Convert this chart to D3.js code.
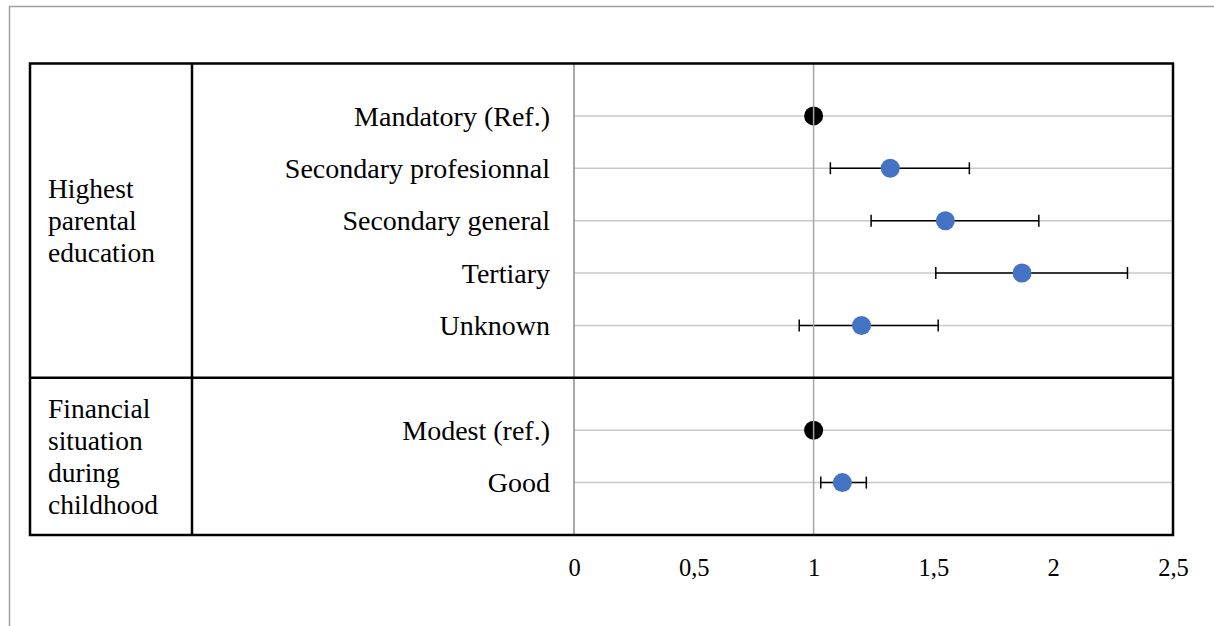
<!DOCTYPE html>
<html>
<head>
<meta charset="utf-8">
<script src="https://cdn.jsdelivr.net/npm/d3@7"></script>
<style>
  body { margin: 0; background: #fff; }
  svg { display: block; }
  text { font-family: "Liberation Serif", "Times New Roman", serif; fill: #000; }
</style>
</head>
<body>
<div id="chart"></div>
<script>
// data
var rowLabels = ["Mandatory (Ref.)", "Secondary profesionnal", "Secondary general", "Tertiary", "Unknown", "Modest (ref.)", "Good"];
var rowGroup = [0, 0, 0, 0, 0, 1, 1];
var isRef = [true, false, false, false, false, true, false];
var estimate = [1, 1.32, 1.55, 1.87, 1.20, 1, 1.12];
var lowerCI = [null, 1.07, 1.24, 1.51, 0.94, null, 1.03];
var upperCI = [null, 1.65, 1.94, 2.31, 1.52, null, 1.22];
var groupLabels = [["Highest", "parental", "education"], ["Financial", "situation", "during", "childhood"]];
var xTicks = [0, 0.5, 1, 1.5, 2, 2.5];

var width = 1214, height = 626;
var tableLeft = 30, colDivider = 192;

var rows = rowLabels.map(function(d, i) {
  return {label: d, group: rowGroup[i], ref: isRef[i], est: estimate[i], lo: lowerCI[i], hi: upperCI[i],
          slot: i + 1 + rowGroup[i]};   // one empty slot between the two groups
});

// scales
var xScale = d3.scaleLinear().domain([0, 2.5]).range([574, 1173]);
var yScale = d3.scaleLinear().domain([0, 9]).range([63.5, 535]);

var svg = d3.select("#chart").append("svg")
  .attr("width", width)
  .attr("height", height);

// outer grey frame
svg.append("rect")
  .attr("x", 9.5).attr("y", 6.5)
  .attr("width", width + 20).attr("height", height + 20)
  .attr("fill", "none").attr("stroke", "#a0a0a0").attr("stroke-width", 1.5);

// horizontal gridlines
svg.append("g").selectAll("line").data(rows).join("line")
  .attr("x1", xScale(0)).attr("x2", xScale(2.5))
  .attr("y1", function(d) { return yScale(d.slot); })
  .attr("y2", function(d) { return yScale(d.slot); })
  .attr("stroke", "#c8c8c8").attr("stroke-width", 1.5);

// y axis line at 0
svg.append("line")
  .attr("x1", xScale(0)).attr("x2", xScale(0))
  .attr("y1", yScale(0)).attr("y2", yScale(9))
  .attr("stroke", "#8c8c8c").attr("stroke-width", 1.5);

// error bars
var eb = svg.append("g").selectAll("g").data(rows.filter(function(d) { return d.lo != null; })).join("g")
  .attr("stroke", "#000").attr("stroke-width", 1.5);
eb.append("line")
  .attr("x1", function(d) { return xScale(d.lo); })
  .attr("x2", function(d) { return xScale(d.hi); })
  .attr("y1", function(d) { return yScale(d.slot); })
  .attr("y2", function(d) { return yScale(d.slot); });
eb.append("line")
  .attr("x1", function(d) { return xScale(d.lo); })
  .attr("x2", function(d) { return xScale(d.lo); })
  .attr("y1", function(d) { return yScale(d.slot) - 6; })
  .attr("y2", function(d) { return yScale(d.slot) + 6; });
eb.append("line")
  .attr("x1", function(d) { return xScale(d.hi); })
  .attr("x2", function(d) { return xScale(d.hi); })
  .attr("y1", function(d) { return yScale(d.slot) - 6; })
  .attr("y2", function(d) { return yScale(d.slot) + 6; });

// points
svg.append("g").selectAll("circle").data(rows).join("circle")
  .attr("cx", function(d) { return xScale(d.est); })
  .attr("cy", function(d) { return yScale(d.slot); })
  .attr("r", 9.5)
  .attr("fill", function(d) { return d.ref ? "#000" : "#4472c4"; });

// reference line at 1 (drawn over the reference points)
svg.append("line")
  .attr("x1", xScale(1)).attr("x2", xScale(1))
  .attr("y1", yScale(0)).attr("y2", yScale(9))
  .attr("stroke", "#a6a6a6").attr("stroke-width", 1.5);

// table borders
var border = svg.append("g").attr("stroke", "#000").attr("stroke-width", 2.5).attr("fill", "none");
border.append("rect")
  .attr("x", tableLeft).attr("y", yScale(0))
  .attr("width", xScale(2.5) - tableLeft).attr("height", yScale(9) - yScale(0));
border.append("line")
  .attr("x1", colDivider).attr("x2", colDivider)
  .attr("y1", yScale(0)).attr("y2", yScale(9));
border.append("line")
  .attr("x1", tableLeft).attr("x2", xScale(2.5))
  .attr("y1", yScale(6)).attr("y2", yScale(6));

// row labels
svg.append("g").selectAll("text").data(rows).join("text")
  .attr("x", 550)
  .attr("y", function(d) { return yScale(d.slot); })
  .attr("dy", "0.35em")
  .attr("text-anchor", "end")
  .style("font-size", "28px")
  .text(function(d) { return d.label; });

// group labels, centred vertically in their section
var sections = [[0, 6], [6, 9]];
groupLabels.forEach(function(lines, g) {
  var mid = (yScale(sections[g][0]) + yScale(sections[g][1])) / 2;
  var lh = 32;
  var t = svg.append("text")
    .attr("x", 48)
    .style("font-size", "27.5px");
  t.selectAll("tspan").data(lines).join("tspan")
    .attr("x", 48)
    .attr("y", function(d, i) { return mid + (i - (lines.length - 1) / 2) * lh; })
    .attr("dy", "0.35em")
    .text(function(d) { return d; });
});

// x axis
var xAxis = d3.axisBottom(xScale)
  .tickValues(xTicks)
  .tickSize(0)
  .tickPadding(24)
  .tickFormat(function(d) { return String(d).replace(".", ","); });

var xAxisEl = svg.append("g")
  .attr("transform", "translate(0," + yScale(9) + ")")
  .call(xAxis);
xAxisEl.select(".domain").remove();
xAxisEl.selectAll("text")
  .style("font-family", "'Liberation Serif', 'Times New Roman', serif")
  .style("font-size", "24.5px")
  .attr("fill", "#000");
</script>
</body>
</html>
